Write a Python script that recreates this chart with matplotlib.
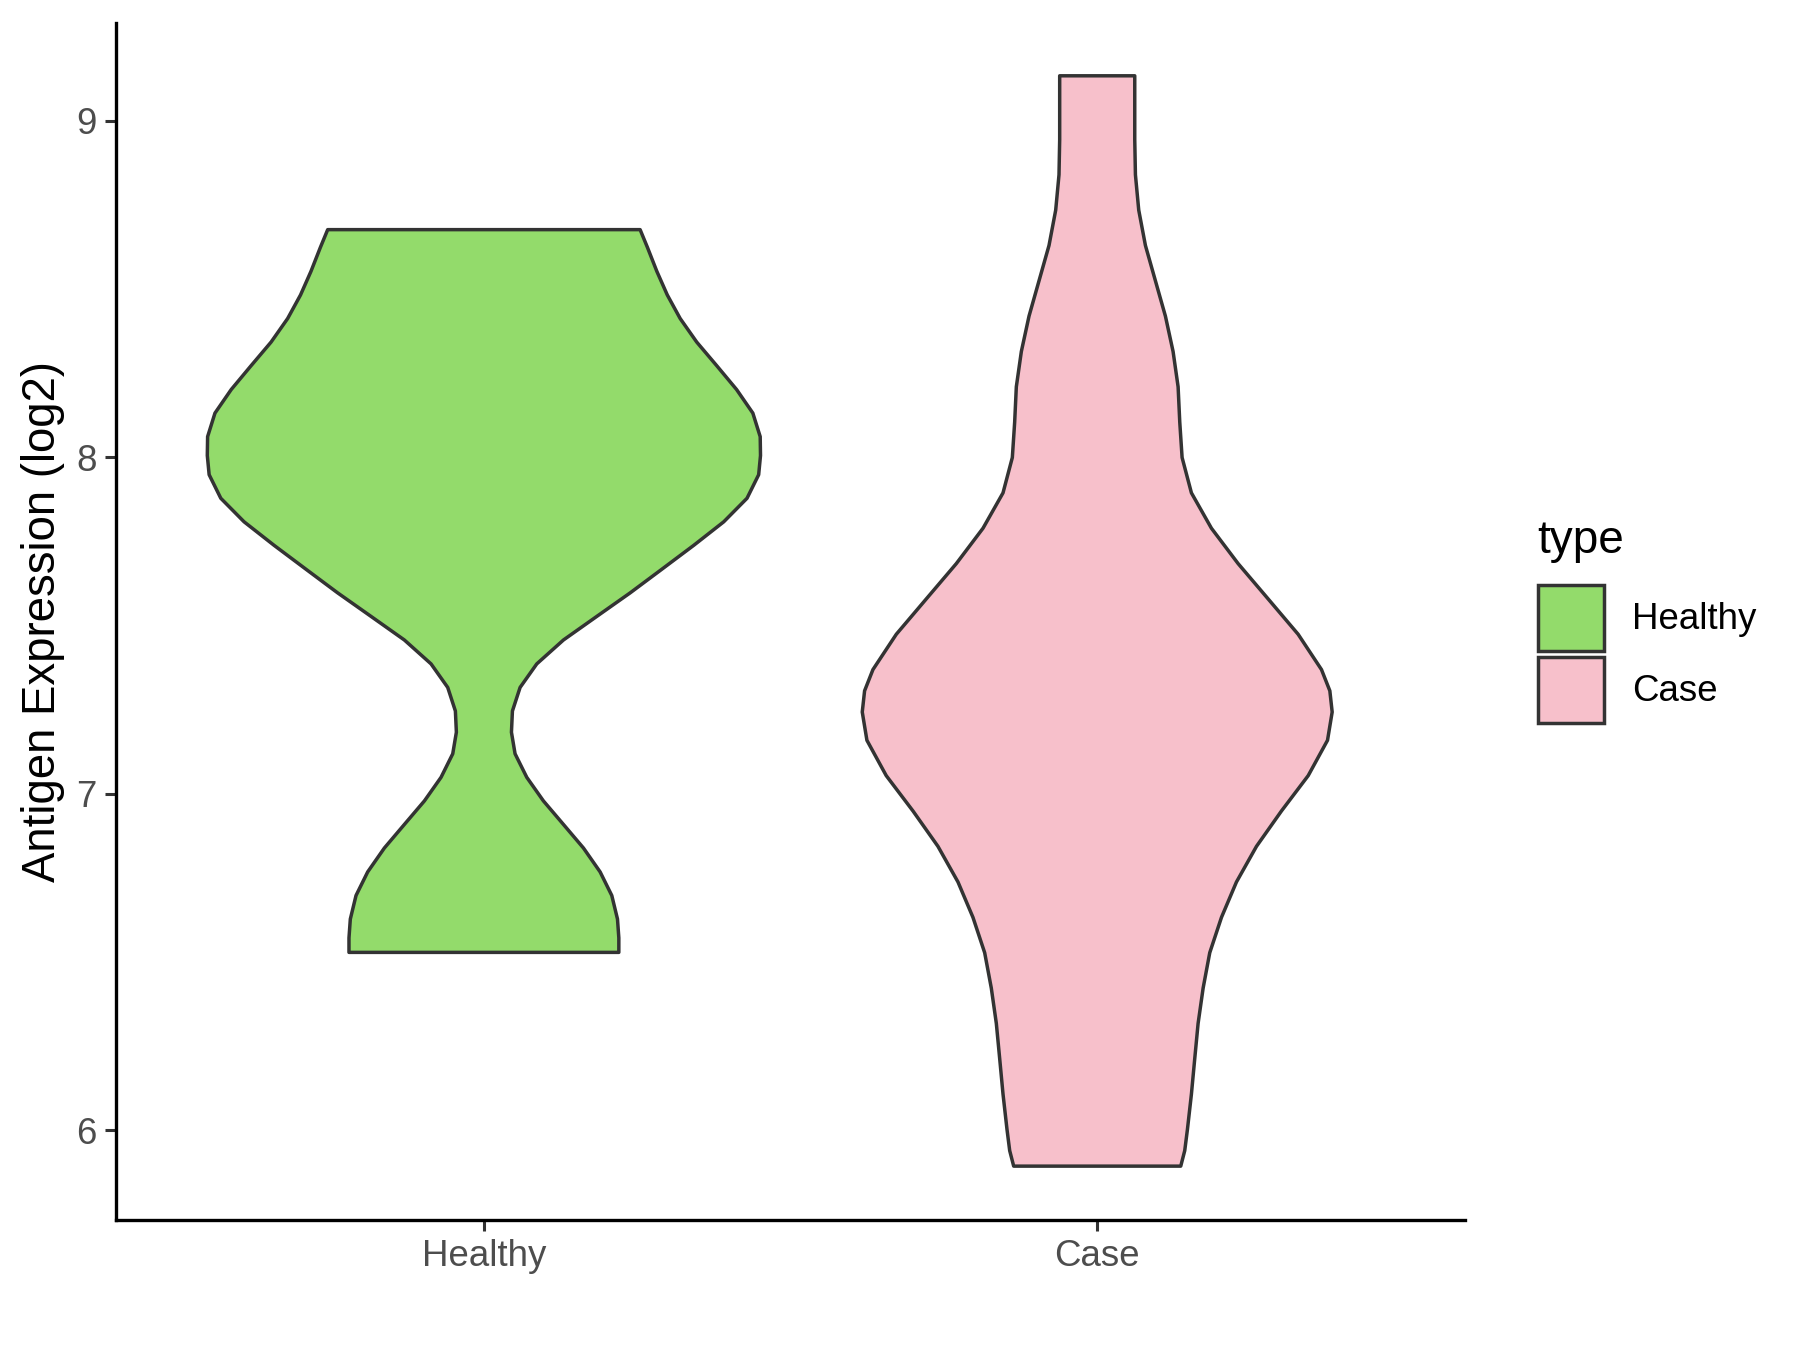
import numpy as np
import matplotlib.pyplot as plt
from matplotlib.patches import Patch

plt.rcParams['font.family'] = ['Liberation Sans', 'DejaVu Sans']

# groups and colours
groups = ["Healthy", "Case"]
colors = ["#93DB6B", "#F7C0CB"]

# violin outline: expression value and half width
healthy_y = [6.529, 6.572, 6.628, 6.698, 6.768, 6.839, 6.909, 6.979, 7.049, 7.119,
             7.183, 7.246, 7.316, 7.386, 7.457, 7.527, 7.597, 7.667, 7.738, 7.808,
             7.878, 7.948, 8.005, 8.061, 8.131, 8.201, 8.271, 8.342, 8.412, 8.482,
             8.552, 8.623, 8.676]
healthy_w = [0.220, 0.220, 0.2178, 0.2085, 0.1895, 0.1623, 0.1297, 0.097, 0.0699, 0.0508,
             0.0449, 0.0465, 0.059, 0.0862, 0.1297, 0.184, 0.2385, 0.290, 0.342, 0.391,
             0.429, 0.448, 0.451, 0.4505, 0.4385, 0.412, 0.380, 0.347, 0.320, 0.299,
             0.282, 0.2667, 0.2547]

case_y = [5.894, 5.940, 6.003, 6.108, 6.213, 6.318, 6.423, 6.528, 6.633, 6.738,
          6.844, 6.949, 7.054, 7.159, 7.243, 7.306, 7.369, 7.474, 7.579, 7.684,
          7.789, 7.894, 7.999, 8.104, 8.209, 8.314, 8.419, 8.524, 8.629, 8.734,
          8.839, 8.944, 9.049, 9.133]
case_w = [0.1362, 0.1427, 0.1471, 0.1536, 0.159, 0.1645, 0.1727, 0.1835, 0.2026, 0.227,
          0.2597, 0.3004, 0.344, 0.3755, 0.3831, 0.3793, 0.3657, 0.3276, 0.2787, 0.2297,
          0.1862, 0.1536, 0.1384, 0.1346, 0.1319, 0.1237, 0.1112, 0.0949, 0.0786, 0.0677,
          0.0623, 0.0612, 0.0612, 0.0612]

profiles = [(healthy_y, healthy_w), (case_y, case_w)]

fig = plt.figure(figsize=(9, 6.75), dpi=200)
ax = fig.add_axes([0.0644, 0.0963, 0.7496, 0.8867])

for i, (ys, ws) in enumerate(profiles):
    pos = i + 1
    ys = np.array(ys)
    ws = np.array(ws)
    xs = np.concatenate([pos - ws, (pos + ws)[::-1]])
    yy = np.concatenate([ys, ys[::-1]])
    ax.fill(xs, yy, facecolor=colors[i], edgecolor="#333333", linewidth=1.25,
            joinstyle="round", zorder=2)

ax.set_xlim(0.4, 2.6)
ax.set_ylim(5.734, 9.29)
ax.set_xticks([1, 2])
ax.set_xticklabels(groups)
ax.set_yticks([6, 7, 8, 9])

for s in ["top", "right"]:
    ax.spines[s].set_visible(False)
for s in ["left", "bottom"]:
    ax.spines[s].set_linewidth(1.2)
    ax.spines[s].set_color("black")
ax.tick_params(axis="both", length=4, width=1.1, color="#333333",
               labelcolor="#4D4D4D", labelsize=13.2, pad=3)

ax.set_ylabel("Antigen Expression (log2)", fontsize=16.4, color="black", labelpad=4)

# legend: title as its own text, keys below it
fig.text(0.8538, 0.5904, "type", fontsize=16.5, va="baseline", ha="left")
handles = [Patch(facecolor=colors[i], edgecolor="#333333", linewidth=1.25, label=g)
           for i, g in enumerate(groups)]
leg = fig.legend(handles=handles, loc="upper left",
                 bbox_to_anchor=(0.8547, 0.5667), frameon=False, fontsize=13.2,
                 handlelength=1.8, handleheight=2.39,
                 labelspacing=0.16, handletextpad=0.75, borderaxespad=0, borderpad=0)

fig.savefig("out.png", dpi=200)
